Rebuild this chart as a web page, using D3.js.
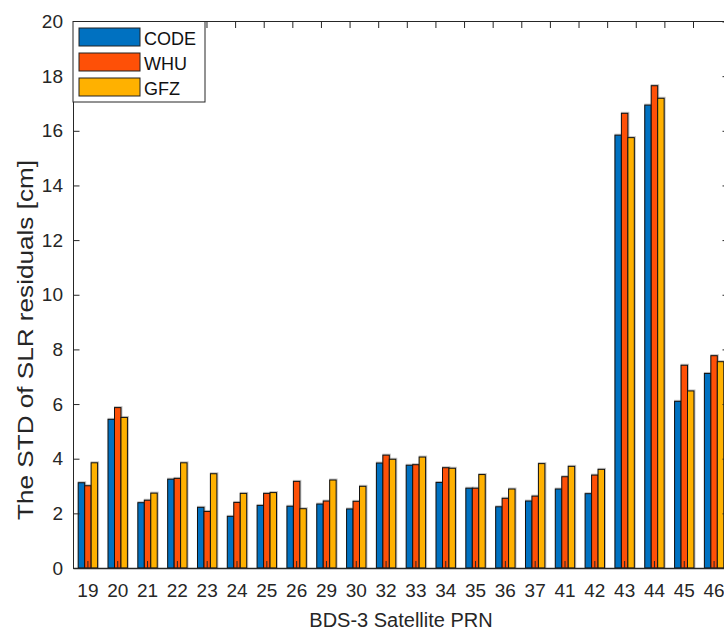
<!DOCTYPE html>
<html>
<head>
<meta charset="utf-8">
<script src="https://cdn.jsdelivr.net/npm/d3@7"></script>
<style>
  body { margin: 0; background: #fff; }
  svg { display: block; font-family: "Liberation Sans", Arial, sans-serif; }
  .axis text { font-size: 19px; fill: #262626; }
  .axis path, .axis line { stroke: #262626; }
</style>
</head>
<body>
<svg></svg>
<script>
const prn = ["19", "20", "21", "22", "23", "24", "25", "26", "29", "30", "32",
  "33", "34", "35", "36", "37", "41", "42", "43", "44", "45", "46"];

const series = ["CODE", "WHU", "GFZ"];

const code = [3.12, 5.44, 2.39, 3.25, 2.22, 1.89, 2.29, 2.26, 2.34, 2.16, 3.84,
  3.76, 3.13, 2.92, 2.24, 2.45, 2.89, 2.72, 15.84, 16.94, 6.10, 7.12];
const whu = [3.01, 5.87, 2.48, 3.28, 2.07, 2.40, 2.73, 3.17, 2.45, 2.44, 4.13,
  3.78, 3.67, 2.92, 2.55, 2.63, 3.34, 3.40, 16.64, 17.65, 7.42, 7.77];
const gfz = [3.85, 5.51, 2.74, 3.85, 3.45, 2.73, 2.76, 2.17, 3.22, 2.99, 3.98,
  4.06, 3.65, 3.42, 2.89, 3.82, 3.72, 3.61, 15.75, 17.19, 6.48, 7.55];

const yTicks = [0, 2, 4, 6, 8, 10, 12, 14, 16, 18, 20];

const colors = ["#0071c1", "#fe5007", "#ffb100"];

let width = 724,
  height = 630;

let margin = { left: 73, right: 729, top: 21.5, bottom: 568 };

let svg = d3.select("svg").attr("width", width).attr("height", height);

const values = [code, whu, gfz];
const table = prn.map((p, i) => ({
  prn: p,
  vals: series.map((s, j) => ({ key: s, value: values[j][i], idx: j })),
}));

let x = d3
  .scaleBand()
  .domain(prn)
  .range([margin.left, margin.right])
  .paddingInner(0.35)
  .paddingOuter(0.175);

let xSub = d3.scaleBand().domain(series).range([0, x.bandwidth()]);

let y = d3.scaleLinear().domain([0, 20]).range([margin.bottom, margin.top]);

// bars
let groups = svg
  .append("g")
  .selectAll("g")
  .data(table)
  .enter()
  .append("g")
  .attr("transform", (d) => `translate(${x(d.prn)},0)`);

// soft grey halo like the matlab export
groups
  .selectAll("rect.halo")
  .data((d) => d.vals)
  .enter()
  .append("rect")
  .attr("class", "halo")
  .attr("x", (d) => xSub(d.key) + 0.5)
  .attr("y", (d) => y(d.value) - 0.5)
  .attr("width", xSub.bandwidth())
  .attr("height", (d) => y(0) - y(d.value))
  .attr("fill", "none")
  .attr("stroke", "#999")
  .attr("stroke-opacity", 0.6)
  .attr("stroke-width", 2);

groups
  .selectAll("rect.bar")
  .data((d) => d.vals)
  .enter()
  .append("rect")
  .attr("class", "bar")
  .attr("x", (d) => xSub(d.key))
  .attr("y", (d) => y(d.value))
  .attr("width", xSub.bandwidth())
  .attr("height", (d) => y(0) - y(d.value))
  .attr("fill", (d) => colors[d.idx])
  .attr("stroke", "#111")
  .attr("stroke-width", 1);

// axes
let xAxis = svg
  .append("g")
  .attr("class", "axis")
  .attr("transform", `translate(0,${margin.bottom})`)
  .call(d3.axisBottom(x).tickSizeInner(-7).tickSizeOuter(0).tickPadding(16));
xAxis.select(".domain").attr("stroke-width", 1.6);

svg
  .append("g")
  .attr("class", "axis")
  .attr("transform", `translate(${margin.left},0)`)
  .call(d3.axisLeft(y).tickValues(yTicks).tickSizeInner(-6.5).tickSizeOuter(0).tickPadding(10));

svg
  .append("g")
  .attr("class", "axis")
  .attr("transform", `translate(${margin.right},0)`)
  .call(d3.axisRight(y).tickValues(yTicks).tickSizeInner(-6.5).tickSizeOuter(0).tickFormat(""));

// top ticks (they do not line up with the PRN groups in the original)
let xTop = d3.scaleLinear().domain([0, 21]).range([92, 693]);
svg
  .append("g")
  .attr("class", "axis")
  .attr("transform", `translate(0,${margin.top})`)
  .call(d3.axisTop(xTop).tickValues(d3.range(0, 22)).tickSizeInner(-6.5).tickSizeOuter(0).tickFormat(""))
  .select(".domain")
  .attr("d", `M${margin.left},0H${margin.right}`);

// titles
svg
  .append("text")
  .attr("x", (margin.left + margin.right) / 2)
  .attr("y", 627)
  .attr("text-anchor", "middle")
  .attr("font-size", 20)
  .attr("fill", "#262626")
  .text("BDS-3 Satellite PRN");

// the y title looks stretched along its length in the original
svg
  .append("text")
  .attr("transform", "translate(33,340) rotate(-90)")
  .attr("text-anchor", "middle")
  .attr("font-size", 22)
  .attr("textLength", 360)
  .attr("lengthAdjust", "spacingAndGlyphs")
  .attr("fill", "#262626")
  .text("The STD of SLR residuals [cm]");

// Legend
let legend = svg.append("g").attr("transform", `translate(${margin.left},${margin.top})`);
legend
  .append("rect")
  .attr("width", 132)
  .attr("height", 80.5)
  .attr("fill", "#fff")
  .attr("stroke", "#262626")
  .attr("stroke-width", 1);

let items = legend
  .selectAll("g")
  .data(series)
  .enter()
  .append("g")
  .attr("transform", (d, i) => `translate(6,${6.5 + i * 25})`);

items
  .append("rect")
  .attr("width", 61)
  .attr("height", 18)
  .attr("fill", (d, i) => colors[i])
  .attr("stroke", "#222")
  .attr("stroke-width", 1);

items
  .append("text")
  .attr("x", 65)
  .attr("y", 17)
  .attr("font-size", 18)
  .attr("fill", "#111")
  .text((d) => d);
</script>
</body>
</html>
